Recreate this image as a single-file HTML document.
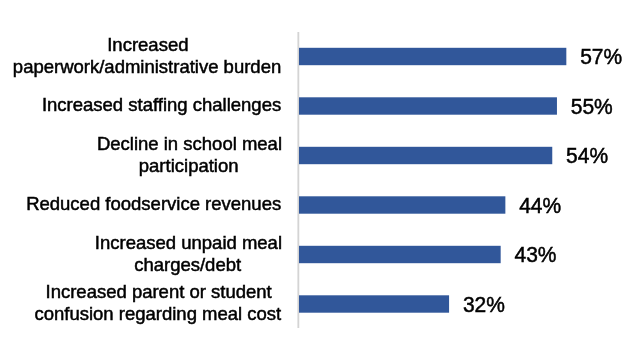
<!DOCTYPE html>
<html><head><meta charset="utf-8"><style>
html,body{margin:0;padding:0;background:#fff;width:640px;height:348px;overflow:hidden;-webkit-font-smoothing:antialiased}
svg{display:block;will-change:transform}
text{font-family:"Liberation Sans",sans-serif;fill:#000;stroke:#000;stroke-width:0.5px}
.v{font-size:22.6px}
.l{font-size:18.5px}
.e{text-anchor:end}
.m{text-anchor:middle}
</style></head><body>
<svg width="640" height="348" viewBox="0 0 640 348">
<rect x="297" y="32" width="1" height="296" fill="#E6E6E6"/><rect x="298" y="32" width="1" height="296" fill="#D4D4D4"/><rect x="299" y="32" width="1" height="296" fill="#F4F4F4"/>
<rect x="299" y="47.80" width="267.33" height="17.4" fill="#31579A"/>
<text class="v" transform="translate(580.13,64.00) scale(0.93,1)">57%</text>
<text class="l m" x="147.85" y="50.65">Increased</text>
<text class="l m" x="147.05" y="72.95">paperwork/administrative burden</text>
<rect x="299" y="97.30" width="257.95" height="17.4" fill="#31579A"/>
<text class="v" transform="translate(570.75,113.50) scale(0.93,1)">55%</text>
<text class="l e" x="281.2" y="111.30">Increased staffing challenges</text>
<rect x="299" y="146.80" width="253.26" height="17.4" fill="#31579A"/>
<text class="v" transform="translate(566.06,163.00) scale(0.93,1)">54%</text>
<text class="l m" x="189.48" y="149.65">Decline in school meal</text>
<text class="l m" x="188.68" y="171.95">participation</text>
<rect x="299" y="196.30" width="206.36" height="17.4" fill="#31579A"/>
<text class="v" transform="translate(519.16,212.50) scale(0.93,1)">44%</text>
<text class="l e" x="281.2" y="210.30">Reduced foodservice revenues</text>
<rect x="299" y="245.80" width="201.67" height="17.4" fill="#31579A"/>
<text class="v" transform="translate(514.47,262.00) scale(0.93,1)">43%</text>
<text class="l m" x="188.44" y="248.65">Increased unpaid meal</text>
<text class="l m" x="187.64" y="270.95">charges/debt</text>
<rect x="299" y="295.30" width="150.08" height="17.4" fill="#31579A"/>
<text class="v" transform="translate(462.88,311.50) scale(0.93,1)">32%</text>
<text class="l m" x="158.64" y="298.15">Increased parent or student</text>
<text class="l m" x="157.84" y="320.45">confusion regarding meal cost</text>
</svg>
</body></html>
